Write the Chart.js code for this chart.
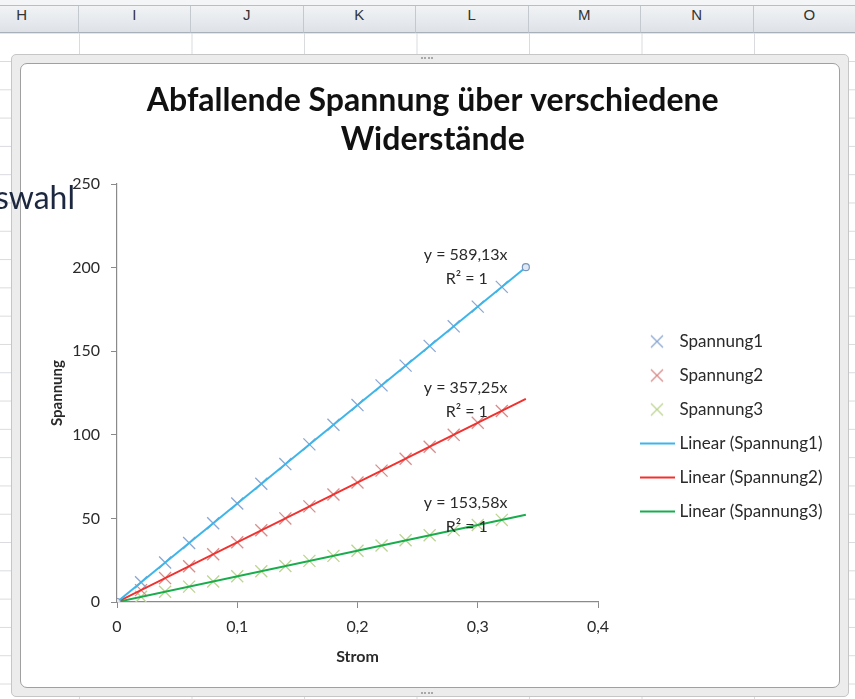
<!DOCTYPE html>
<html lang="de">
<head>
<meta charset="UTF-8">
<title>Abfallende Spannung über verschiedene Widerstände</title>
<script src="https://cdn.jsdelivr.net/npm/chart.js"></script>
<style>
  body { margin:0; width:855px; height:699px; overflow:hidden; background:#fff; position:relative; font-family: Lato, sans-serif; }
  .topbar { position:absolute; left:0; top:0; width:855px; height:5px; background:#f4f5f7; border-bottom:1px solid #b9bec6; }
  .colhead { position:absolute; top:6px; height:26px; background:linear-gradient(#f1f3f5,#dee2e7); border-right:1px solid #c4c9d0; border-bottom:1px solid #a8b0ba;
             text-align:center; line-height:26px; font:15px "Liberation Sans", sans-serif; color:#333; }
  .cells { position:absolute; left:0; top:33px; width:855px; height:666px;
           background-image: linear-gradient(to right, #d9dbde 1px, transparent 1px), linear-gradient(to bottom, #d9dbde 1px, transparent 1px);
           background-size: 112.5px 28.3px; background-position: 79px 28px; }
  .frame { position:absolute; left:11px; top:54px; width:836px; height:641px; background:#ececec; border:1px solid #c6c6c6; border-radius:5px; }
  .inner { position:absolute; left:20px; top:63px; width:818px; height:623px; background:#fff; border:1px solid #a0a0a0; border-radius:7px; }
  .grip { position:absolute; width:12px; border-top:2px dotted #a8a8a8; }
  #chart { position:absolute; left:21px; top:64px; }
  .overflow { position:absolute; right:780px; top:177px; font:32px Lato, sans-serif; color:#1c2840; white-space:nowrap; }
</style>
</head>
<body>
<div class="topbar"></div>
<div class="cells"></div>
<div id="heads"></div>
<div class="frame"></div>
<div class="inner"></div>
<div class="grip" style="left:421px; top:57px"></div>
<div class="grip" style="left:421px; top:692px"></div>
<canvas id="chart" width="818" height="623"></canvas>
<div class="overflow">Auswahl</div>

<script>
  // Spaltenköpfe der Tabelle
  const spalten = ['H', 'I', 'J', 'K', 'L', 'M', 'N', 'O'];
  const heads = document.getElementById('heads');
  spalten.forEach((s, i) => {
    const d = document.createElement('div');
    d.className = 'colhead';
    d.style.left = (-34 + i * 112.5) + 'px';
    d.style.width = '111.5px';
    d.textContent = s;
    heads.appendChild(d);
  });

  // Messwerte
  const strom = [0.02, 0.04, 0.06, 0.08, 0.10, 0.12, 0.14, 0.16, 0.18, 0.20, 0.22, 0.24, 0.26, 0.28, 0.30, 0.32];
  const spannung1 = [11.8, 23.6, 35.3, 47.1, 58.9, 70.7, 82.5, 94.3, 106.0, 117.8, 129.6, 141.4, 153.2, 164.9, 176.7, 188.5];
  const spannung2 = [7.1, 14.3, 21.4, 28.6, 35.7, 42.9, 50.0, 57.2, 64.3, 71.5, 78.6, 85.7, 92.9, 100.0, 107.2, 114.3];
  const spannung3 = [3.1, 6.1, 9.2, 12.3, 15.4, 18.4, 21.5, 24.6, 27.6, 30.7, 33.8, 36.9, 39.9, 43.0, 46.1, 49.1];

  // Endpunkte (Kreise) und Trendlinien
  const endStrom = [0, 0.34];
  const endSpannung1 = [0, 200.3];
  const trendStrom = [0, 0.34];
  const trend1 = [0, 200.3];
  const trend2 = [0, 121.5];
  const trend3 = [0, 52.2];

  const gleichungen = ['y = 589,13x', 'y = 357,25x', 'y = 153,58x'];
  const bestimmtheit = ['R² = 1', 'R² = 1', 'R² = 1'];
  const gleichungX = [0.29, 0.29, 0.29];
  const gleichungY = [207.5, 128, 59.2];

  const xTicks = [0, 0.1, 0.2, 0.3, 0.4];
  const xTickLabels = ['0', '0,1', '0,2', '0,3', '0,4'];
  const yTicks = [0, 50, 100, 150, 200, 250];
  const yTickLabels = ['0', '50', '100', '150', '200', '250'];

  const labels = ['Spannung1', 'Spannung2', 'Spannung3', 'Linear (Spannung1)', 'Linear (Spannung2)', 'Linear (Spannung3)'];

  const kreuzFarben = ['#8aa7d3', '#d98c8a', '#bcd493'];
  const linienFarben = ['#3db5ea', '#f2302e', '#17ad4c'];
  const achse = '#8a8a8a';
  const text = '#2a2a2a';
  const fontName = 'Lato, sans-serif';

  const pts = (xs, ys) => xs.map((x, i) => ({ x: x, y: ys[i] }));

  // Legendensymbole
  function icon(kind, color) {
    const c = document.createElement('canvas');
    c.width = 64; c.height = 16;
    const g = c.getContext('2d');
    g.strokeStyle = color;
    if (kind === 'kreuz') {
      g.lineWidth = 1.3;
      g.beginPath();
      g.moveTo(40, 2); g.lineTo(52, 14);
      g.moveTo(52, 2); g.lineTo(40, 14);
      g.stroke();
    } else {
      g.lineWidth = 2;
      g.beginPath();
      g.moveTo(29, 8); g.lineTo(64, 8);
      g.stroke();
    }
    return c;
  }
  const legendIcons = [
    icon('kreuz', kreuzFarben[0]), icon('kreuz', kreuzFarben[1]), icon('kreuz', kreuzFarben[2]),
    icon('linie', linienFarben[0]), icon('linie', linienFarben[1]), icon('linie', linienFarben[2])
  ];

  // Legende: Abstand zur Zeichenfläche, Text beginnt bei x=680
  const legendFont = 17, legendPad = 17, boxW = 56;
  const m = document.createElement('canvas').getContext('2d');
  m.font = legendFont + 'px ' + fontName;
  const textW = Math.ceil(Math.max(...labels.map(l => m.measureText(l).width)));
  const legendWidth = legendPad + boxW + legendFont / 2 + textW + 2;
  const padRight = Math.max(0, 818 - 577 - legendWidth);

  const legendBreite = {
    id: 'legendBreite',
    afterInit(chart) {
      const lg = chart.legend;
      const fit = lg.fit;
      lg.fit = function () { fit.call(this); this.width = legendWidth; };
    }
  };

  const gleichungPlugin = {
    id: 'gleichungen',
    afterDatasetsDraw(chart) {
      const { ctx, scales } = chart;
      ctx.save();
      ctx.font = '16px ' + fontName;
      ctx.fillStyle = text;
      ctx.textAlign = 'center';
      ctx.textBaseline = 'middle';
      gleichungen.forEach((g, i) => {
        const px = scales.x.getPixelForValue(gleichungX[i]);
        const py = scales.y.getPixelForValue(gleichungY[i]);
        ctx.fillText(g, px, py);
        ctx.fillText(bestimmtheit[i], px + 1, py + 24);
      });
      ctx.restore();
    }
  };

  const kreuz = (label, data, color) => ({
    label: label, data: data, pointStyle: 'crossRot', pointRadius: 8.5, pointHoverRadius: 8.5,
    borderColor: color, backgroundColor: color, pointBorderWidth: 1.3, order: 2
  });
  const linie = (label, data, color) => ({
    label: label, data: data, showLine: true, pointRadius: 0, borderColor: color,
    backgroundColor: color, borderWidth: 2, order: 1
  });

  new Chart(document.getElementById('chart'), {
    type: 'scatter',
    data: {
      datasets: [
        kreuz(labels[0], pts(strom, spannung1), kreuzFarben[0]),
        kreuz(labels[1], pts(strom, spannung2), kreuzFarben[1]),
        kreuz(labels[2], pts(strom, spannung3), kreuzFarben[2]),
        linie(labels[3], pts(trendStrom, trend1), linienFarben[0]),
        linie(labels[4], pts(trendStrom, trend2), linienFarben[1]),
        linie(labels[5], pts(trendStrom, trend3), linienFarben[2]),
        { label: 'Endpunkte', data: pts(endStrom, endSpannung1), pointStyle: 'circle', pointRadius: 3.5,
          borderColor: '#7b96bb', backgroundColor: '#dfe8f3', pointBorderWidth: 1.2, order: 0 }
      ]
    },
    options: {
      responsive: false,
      devicePixelRatio: 1,
      animation: false,
      events: [],
      layout: { padding: { left: 20, right: padRight, top: 0, bottom: 0 } },
      plugins: {
        tooltip: { enabled: false },
        title: {
          display: true,
          text: ['Abfallende Spannung über verschiedene', 'Widerstände'],
          color: '#111',
          font: { family: fontName, size: 32, weight: 'bold', lineHeight: 1.22 },
          padding: { top: 17, bottom: 25 }
        },
        legend: {
          position: 'right',
          align: 'center',
          title: { display: true, text: '', font: { size: 10, lineHeight: 1.2 }, padding: { top: 90, bottom: 0 } },
          labels: {
            usePointStyle: true,
            pointStyleWidth: boxW,
            padding: legendPad,
            color: text,
            font: { family: fontName, size: legendFont },
            generateLabels(chart) {
              const items = Chart.defaults.plugins.legend.labels.generateLabels(chart);
              items.forEach(it => { it.pointStyle = legendIcons[it.datasetIndex]; });
              return items;
            },
            filter: item => item.datasetIndex < 6,
            sort: (a, b) => a.datasetIndex - b.datasetIndex
          }
        }
      },
      scales: {
        x: {
          type: 'linear', min: 0, max: 0.4,
          afterBuildTicks: s => { s.ticks = xTicks.map(v => ({ value: v })); },
          afterFit: s => { s.height = 85; },
          ticks: { callback: (v, i) => xTickLabels[i], color: text, padding: 9, font: { family: fontName, size: 16 }, maxRotation: 0 },
          grid: { drawOnChartArea: false, drawTicks: true, tickLength: 6, color: achse },
          border: { display: true, color: achse, width: 1.2 },
          title: { display: true, text: 'Strom', color: text, font: { family: fontName, size: 16, weight: 'bold' }, padding: { top: 0, bottom: 21 } }
        },
        y: {
          type: 'linear', min: 0, max: 250,
          afterBuildTicks: s => { s.ticks = yTicks.map(v => ({ value: v })); },
          afterFit: s => { s.width = 76; },
          ticks: { callback: (v, i) => yTickLabels[i], color: text, padding: 11, font: { family: fontName, size: 16 } },
          grid: { drawOnChartArea: false, drawTicks: true, tickLength: 6, color: achse },
          border: { display: true, color: achse, width: 1.2 },
          title: { display: true, text: 'Spannung', color: text, font: { family: fontName, size: 15, weight: 'bold' }, padding: { top: 7, bottom: 0 } }
        }
      }
    },
    plugins: [gleichungPlugin, legendBreite]
  });
</script>
</body>
</html>
